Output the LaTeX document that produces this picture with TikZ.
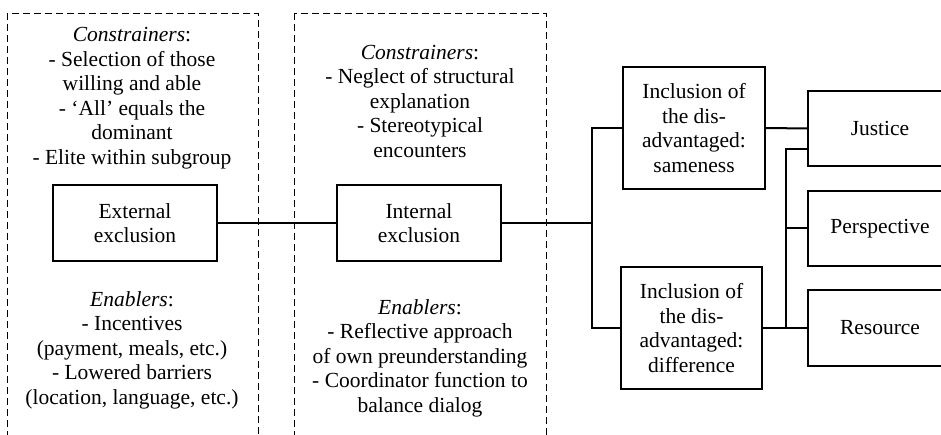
\documentclass[tikz,border=0pt]{standalone}
\usepackage{fontspec}
\setmainfont{Liberation Serif}
\usetikzlibrary{calc}
\tikzset{
  box/.style={draw, line width=1.2pt, rectangle, align=center, inner sep=0pt},
  region/.style={draw, line width=0.9pt, dash pattern=on 7pt off 4pt},
  conn/.style={line width=2pt},
  txt/.style={align=center, inner sep=0pt}
}
\begin{document}
\begin{tikzpicture}[x=1pt,y=-1pt,font=\fontsize{21.5}{24.5}\selectfont]
\useasboundingbox (0,0) rectangle (941,435);
\clip (0,0) rectangle (941,435);
% dashed regions
\draw[region] (7,13) rectangle (258,450);
\draw[region] (294,13) rectangle (546,450);
% texts in regions
\node[txt] (c1) at (132,98) {\textit{Constrainers}:\\- Selection of those\\willing and able\\- ‘All’ equals the\\dominant\\- Elite within subgroup};
\node[txt] (e1) at (132,350) {\textit{Enablers}:\\- Incentives\\(payment, meals, etc.)\\- Lowered barriers\\(location, language, etc.)};
\node[txt] (c2) at (420,101) {\textit{Constrainers}:\\- Neglect of structural\\explanation\\- Stereotypical\\encounters};
\node[txt] (e2) at (420,358) {\textit{Enablers}:\\- Reflective approach\\of own preunderstanding\\- Coordinator function to\\balance dialog};
% boxes
\node[box, minimum width=164pt, minimum height=76pt] (ext) at (135,223) {External\\exclusion};
\node[box, minimum width=164pt, minimum height=76pt] (int) at (419,223) {Internal\\exclusion};
\node[box, minimum width=142pt, minimum height=122pt] (same) at (694,128) {Inclusion of\\the dis-\\advantaged:\\sameness};
\node[box, minimum width=141pt, minimum height=122pt] (diff) at (691.5,328) {Inclusion of\\the dis-\\advantaged:\\difference};
\node[box, minimum width=144pt, minimum height=75pt] (just) at (880,128.5) {Justice};
\node[box, minimum width=144pt, minimum height=75pt] (persp) at (880,228.5) {Perspective};
\node[box, minimum width=144pt, minimum height=76pt] (res) at (880,328) {Resource};
% connectors
\coordinate (split) at (592,223);
\coordinate (merge) at (786,328);
\draw[conn] (ext.east) -- (int.west);
\draw[conn] (int.east) -- (split);
\draw[conn] (same.west) -| (split) |- (diff.west);
\draw[conn] (same.east) -- (just.west);
\draw[conn] (diff.east) -- (res.west);
\draw[conn] (merge) |- ([yshift=-20.5pt]just.west);
\draw[conn] (merge |- persp.west) -- (persp.west);
\end{tikzpicture}
\end{document}
